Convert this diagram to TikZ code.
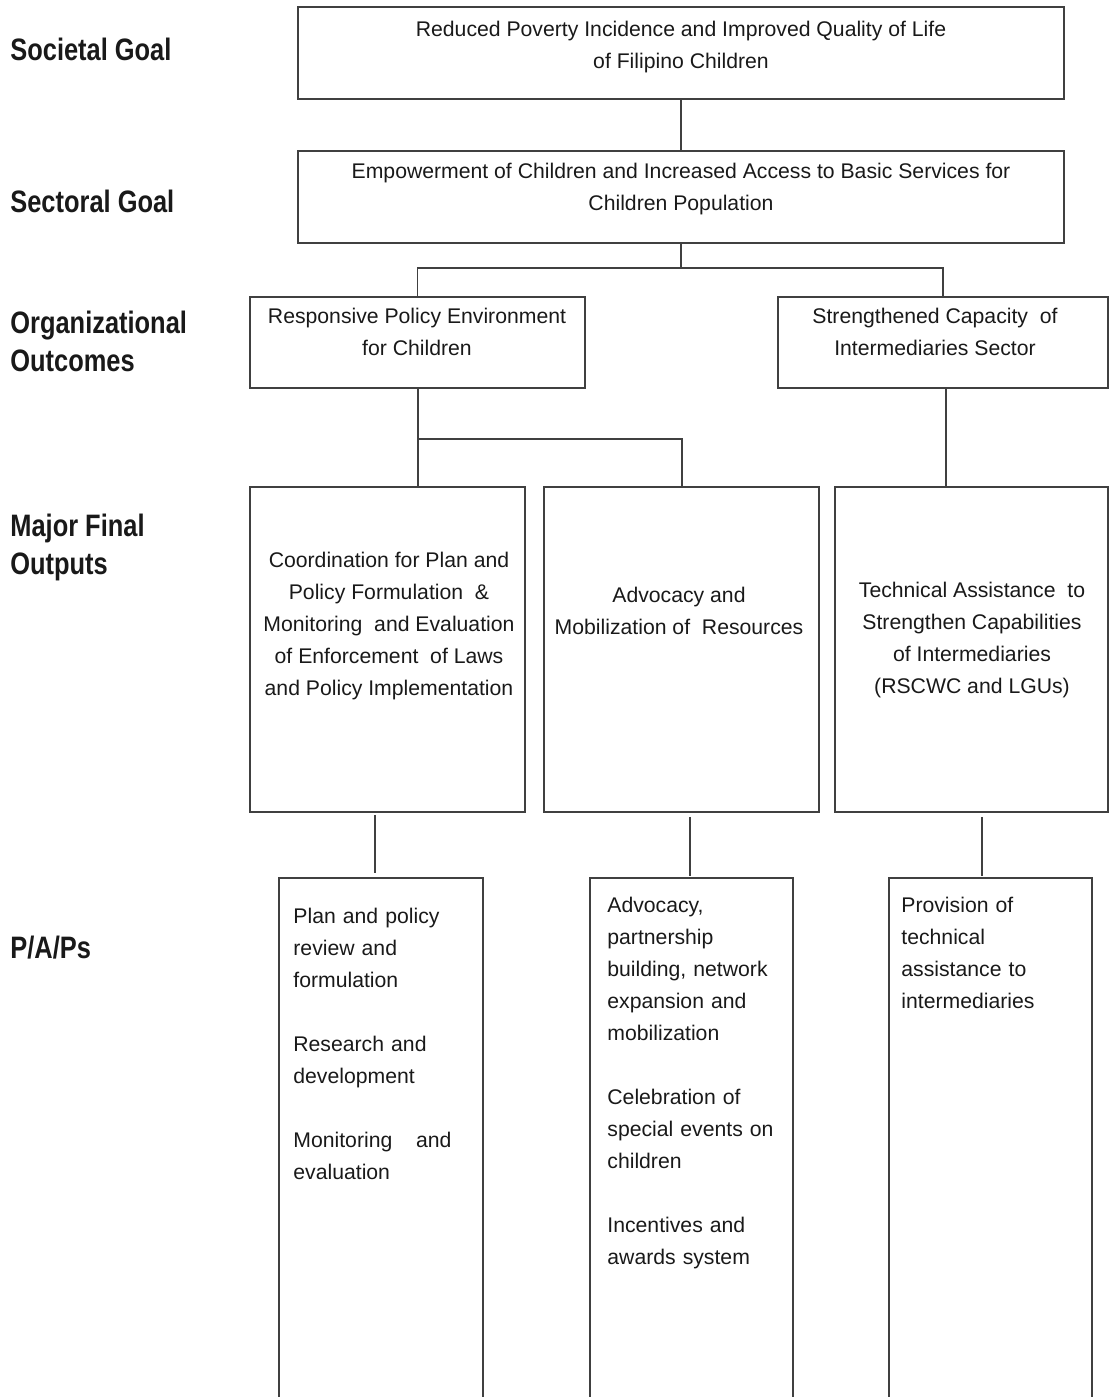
\documentclass[tikz,border=0pt]{standalone}
\usepackage{fontspec}
\setmainfont{Liberation Sans}
\newfontfamily\levelfont{Liberation Sans}[FakeStretch=0.82]
\usetikzlibrary{positioning}

\begin{document}
\begin{tikzpicture}[x=0.5pt, y=-0.5pt]
        \tikzstyle{box} = [rectangle, draw=black!75, line width=0.75pt, inner sep=0pt]
        \tikzstyle{boxtext} = [align=center, inner sep=0pt, text=black!90, font=\fontsize{10.6}{16}\selectfont]
        \tikzstyle{listtext} = [anchor=north west, align=left, text width=90pt, inner sep=0pt, text=black!90, font=\fontsize{10.6}{16}\selectfont]
        \tikzstyle{level} = [anchor=north west, align=left, inner sep=0pt, text=black!90, font=\levelfont\bfseries\fontsize{15.5}{19}\selectfont]
        \tikzstyle{line} = [draw=black!75, line width=0.75pt]

        \useasboundingbox (0,0) rectangle (1109,1397);
        \clip (0,0) rectangle (1109,1397);

        % Row labels
        \node [level] (lsoc) at (10,33) {\strut Societal Goal};
        \node [level] (lsec) at (10,185) {\strut Sectoral Goal};
        \node [level] (lorg) at (10,306) {\strut Organizational\\Outcomes};
        \node [level] (lmfo) at (10,509) {\strut Major Final\\Outputs};
        \node [level] (lpap) at (10,931) {\strut P/A/Ps};

        % Boxes
        \node [box, minimum width=383pt, minimum height=46pt] (goal) at (681,53) {};
        \node [box, minimum width=383pt, minimum height=46pt] (sector) at (681,197) {};
        \node [box, minimum width=167.5pt, minimum height=45.5pt] (orgL) at (417.5,342.5) {};
        \node [box, minimum width=165pt, minimum height=45.5pt] (orgR) at (943,342.5) {};
        \node [box, minimum width=137.5pt, minimum height=162.5pt] (mfo1) at (387.5,649.5) {};
        \node [box, minimum width=137.5pt, minimum height=162.5pt] (mfo2) at (681.5,649.5) {};
        \node [box, minimum width=136.5pt, minimum height=162.5pt] (mfo3) at (971.5,649.5) {};
        \node [box, minimum width=102pt, minimum height=271pt] (pap1) at (381,1149) {};
        \node [box, minimum width=101.5pt, minimum height=271pt] (pap2) at (691.5,1149) {};
        \node [box, minimum width=101.5pt, minimum height=271pt] (pap3) at (990.5,1149) {};

        % Texts
        \node [boxtext] (goaltext) at (681,47) {Reduced Poverty Incidence and Improved Quality of Life\\of Filipino Children};
        \node [boxtext] (sectortext) at (681,189) {Empowerment of Children and Increased Access to Basic Services for\\Children Population};
        \node [boxtext] (orgLtext) at (417,332) {Responsive Policy Environment\\for Children};
        \node [boxtext] (orgRtext) at (935,332) {Strengthened Capacity\ \ of\\Intermediaries Sector};
        \node [boxtext] (mfo1text) at (389,626) {Coordination for Plan and\\Policy Formulation\ \ \&\\Monitoring\ \ and Evaluation\\of Enforcement\ \ of Laws\\and Policy Implementation};
        \node [boxtext] (mfo2text) at (679,611) {Advocacy and\\Mobilization of\ \ Resources};
        \node [boxtext] (mfo3text) at (972,640) {Technical Assistance\ \ to\\Strengthen Capabilities\\of Intermediaries\\(RSCWC and LGUs)};
        \node [listtext, text width=79pt] (pap1text) at (293,901) {\strut Plan and policy\\review and\\formulation\\[16pt]Research and\\development\\[16pt]Monitoring\hfill and\\evaluation};
        \node [listtext] (pap2text) at (607,890) {\strut Advocacy,\\partnership\\building, network\\expansion and\\mobilization\\[16pt]Celebration of\\special events on\\children\\[16pt]Incentives and\\awards system};
        \node [listtext] (pap3text) at (901,890) {\strut Provision of\\technical\\assistance to\\intermediaries};

        % Paths
        \coordinate (fork1) at (681,268);
        \coordinate (fork2) at (418,439);
        \path [line] (goal) -- (sector);
        \path [line] (sector) -- (fork1);
        \path [line] (orgL.north) |- (fork1) -| (orgR.north);
        \path [line] (orgL.south -| fork2) -- (fork2);
        \path [line] (fork2) -- (fork2 |- mfo1.north);
        \path [line] (fork2) -| ([xshift=0.25pt]mfo2.north);
        \path [line] ([xshift=1.5pt]orgR.south) -- ([xshift=1.5pt]orgR.south |- mfo3.north);
        \path [line, shorten <=1pt, shorten >=2pt] ([xshift=-6.25pt]mfo1.south) -- ([xshift=-3pt]pap1.north);
        \path [line, shorten <=2pt, shorten >=0.5pt] ([xshift=4.25pt]mfo2.south) -- ([xshift=-0.75pt]pap2.north);
        \path [line, shorten <=2pt, shorten >=0.5pt] ([xshift=5.25pt]mfo3.south) -- ([xshift=-4.25pt]pap3.north);
    \end{tikzpicture}
\end{document}
